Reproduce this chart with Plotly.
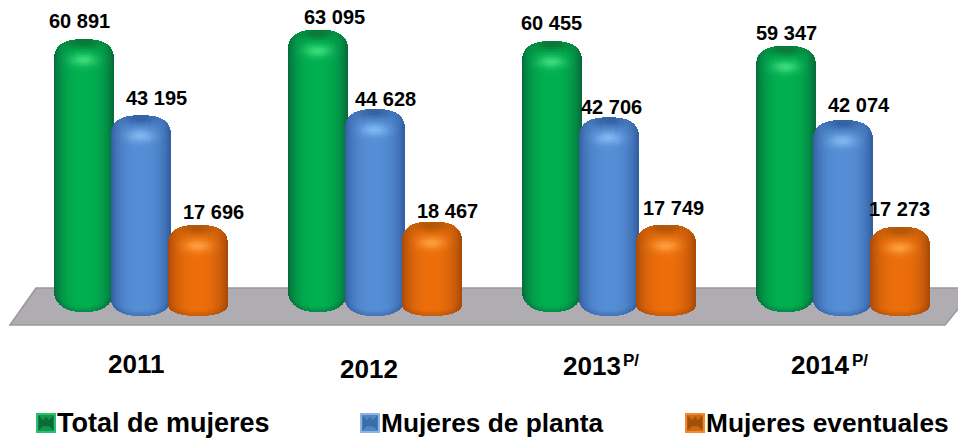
import math
import plotly.graph_objects as go

categories = ["2011", "2012", "2013", "2014"]
category_marks = ["", "", "P/", "P/"]
series_names = ["Total de mujeres", "Mujeres de planta", "Mujeres eventuales"]
total_mujeres = [60891, 63095, 60455, 59347]
mujeres_planta = [43195, 44628, 42706, 42074]
mujeres_eventuales = [17696, 18467, 17749, 17273]
series_values = [total_mujeres, mujeres_planta, mujeres_eventuales]

# Styling / layout (pixels in a 958x438 canvas)
W, H = 958, 438
PX_PER_K = 4.3
ZERO_PX = 301
GROUP_STEP = 234
CENTERS = [84, 141, 198]
HALF = 29.5
BOTTOMS = [312, 316, 316]
DEPTHS = [20, 16, 11]
CENTER_COL = [(0, 176, 80), (85, 142, 213), (236, 110, 10)]
EDGE_COL = [(6, 105, 58), (48, 92, 158), (165, 72, 8)]
DARK_COL = [(8, 122, 58), (52, 100, 165), (178, 88, 8)]
LIGHT_COL = [(70, 225, 130), (135, 190, 245), (255, 165, 70)]
KEY_LIGHT = ["#2FBF6C", "#8DB4E2", "#F08A30"]
KEY_MID = ["#0E9A4C", "#4F86C6", "#D0690F"]
KEY_DARK = ["#0B6B3A", "#3A6EA8", "#A0500A"]
LABEL_OFF = [
    [(-5, -18), (15, -17), (15, -13)],
    [(16, -13), (10, -10), (15, -11)],
    [(-1, -18), (2, -10), (7, -17)],
    [(0, -13), (16, -15), (-1, -18)],
]
CAT_POS = [(136, 364), (369, 369), (592, 365.5), (820, 365)]
MARK_POS = [None, None, (622, 360), (851, 360)]
KEY_X = [46, 370, 695]
TEXT_X = [57, 381, 706]
TEXT_SIZE = [27, 26.3, 26.3]
FONT = "Liberation Sans, Arial, sans-serif"


def val(px):
    return (ZERO_PX - px) / PX_PER_K * 1000


def top_px(v):
    return ZERO_PX - v / 1000 * PX_PER_K


def mix(a, b, t):
    return tuple(a[i] + (b[i] - a[i]) * t for i in range(3))


def rgb(c):
    return "rgb(%d,%d,%d)" % tuple(round(x) for x in c)


def shade(s, dx, depth_top, depth_bottom):
    u = min(abs(dx) / HALF, 1)
    c = mix(EDGE_COL[s], CENTER_COL[s], (1 - u ** 2.4) ** 0.8)
    dark = math.exp(-((dx / 19) ** 2 + ((depth_top - 3) / 7) ** 2))
    c = mix(c, DARK_COL[s], min(dark * 1.1, 1))
    light = math.exp(-((dx / 13) ** 2 + ((depth_top - 21) / 6) ** 2))
    c = mix(c, LIGHT_COL[s], light * 0.85)
    if depth_bottom < 6:
        c = mix(c, EDGE_COL[s], (6 - depth_bottom) / 6 * 0.55)
    return c


def cylinder(s, cx, value):
    apex = top_px(value)
    bottom = BOTTOMS[s]
    xs, ys, bases, cols = [], [], [], []
    for i in range(59):
        dx = -HALF + 0.5 + i
        u = abs(dx) / HALF
        t = 21 * (1 - (1 - u ** 2.6) ** (1 / 2.6))
        b = DEPTHS[s] * (1 - math.sqrt(max(1 - u ** 2.4, 0)))
        p = apex + t
        end = bottom - b
        body_start = apex + 44
        body_end = end - 6
        while p < end - 0.01:
            if p < body_start:
                q = min(p + 2, end)
            elif p < body_end:
                q = body_end
            else:
                q = min(p + 2, end)
            xs.append(cx + dx)
            bases.append(val(q))
            ys.append(val(p) - val(q))
            cols.append(rgb(shade(s, dx, (p + q) / 2 - apex, end - (p + q) / 2)))
            p = q
    return go.Bar(x=xs, y=ys, base=bases, width=1, marker=dict(color=cols, line=dict(width=0)),
                  name=series_names[s], showlegend=False, hoverinfo="skip")


fig = go.Figure()
for g in range(len(categories)):
    for s in range(3):
        fig.add_trace(cylinder(s, CENTERS[s] + g * GROUP_STEP, series_values[s][g]))

annotations = []
for g in range(len(categories)):
    for s in range(3):
        v = series_values[s][g]
        ox, oy = LABEL_OFF[g][s]
        annotations.append(dict(x=CENTERS[s] + g * GROUP_STEP, y=v, xref="x", yref="y",
                                text=f"{v:,}".replace(",", " "), showarrow=False,
                                xshift=ox, yshift=-oy, xanchor="center", yanchor="middle",
                                font=dict(family=FONT, size=20, color="#000000", weight=700)))
    cx, cy = CAT_POS[g]
    annotations.append(dict(x=cx, y=val(cy), xref="x", yref="y", text=categories[g],
                            showarrow=False, xanchor="center", yanchor="middle",
                            font=dict(family=FONT, size=26, color="#000000", weight=700)))
    if category_marks[g]:
        mx, my = MARK_POS[g]
        annotations.append(dict(x=mx, y=val(my), xref="x", yref="y", text=category_marks[g],
                                showarrow=False, xanchor="left", yanchor="middle",
                                xshift=-1, font=dict(family=FONT, size=17, color="#000000", weight=700)))
for s in range(3):
    annotations.append(dict(x=TEXT_X[s], y=val(423), xref="x", yref="y", text=series_names[s],
                            showarrow=False, xanchor="left", yanchor="middle", xshift=-2,
                            font=dict(family=FONT, size=TEXT_SIZE[s], color="#000000", weight=700)))
    for symbol, size, colour in [("square", 20, KEY_LIGHT[s]), ("square", 16, KEY_MID[s]),
                                 ("bowtie", 15, KEY_DARK[s]), ("triangle-up", 13, KEY_DARK[s])]:
        fig.add_trace(go.Scatter(x=[KEY_X[s]], y=[val(423)], mode="markers", showlegend=False, hoverinfo="skip",
                                 marker=dict(symbol=symbol, size=size, color=colour, line=dict(width=0))))

floor = (f"M 10 {val(325)} L 36 {val(288)} L 975 {val(288)} L 945 {val(325)} Z")
fig.update_layout(
    width=W, height=H, margin=dict(l=0, r=0, t=0, b=0), showlegend=False, barmode="overlay",
    paper_bgcolor="white", plot_bgcolor="white", bargap=0,
    xaxis=dict(range=[0, W], visible=False, fixedrange=True),
    yaxis=dict(range=[val(H), val(0)], visible=False, fixedrange=True),
    shapes=[dict(type="path", path=floor, xref="x", yref="y", layer="below",
                 fillcolor="#B0ADB2", line=dict(color="#9A989C", width=1.5))],
    annotations=annotations,
    font=dict(family=FONT),
)
fig.write_html("out.html", config={"displayModeBar": False},
               post_script="document.body.style.margin='0';")
